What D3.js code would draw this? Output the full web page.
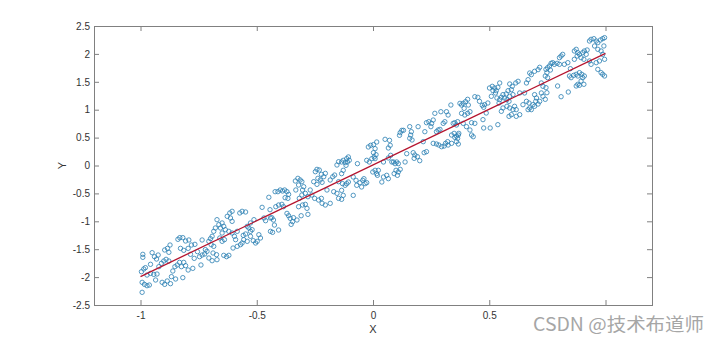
<!DOCTYPE html>
<html>
<head>
<meta charset="utf-8">
<script src="https://cdn.jsdelivr.net/npm/d3@7/dist/d3.min.js"></script>
<style>
  html, body { margin: 0; padding: 0; background: #fff; }
  svg { display: block; }
</style>
</head>
<body>
<svg id="chart" width="720" height="343"></svg>
<script>
// ---------------- data ----------------
const xTicks = [-1, -0.5, 0, 0.5, 1];
// the label of the last x tick is hidden under the watermark in the reference
const xTickLabels = ["-1", "-0.5", "0", "0.5", ""];
const yTicks = [-2.5, -2, -1.5, -1, -0.5, 0, 0.5, 1, 1.5, 2, 2.5];
const xDomain = [-1.2, 1.2];
const yDomain = [-2.5, 2.5];
const xLabel = "X";
const yLabel = "Y";
const watermark = "CSDN @技术布道师";

// fitted regression line end points
const fitX = [-1, 1];
const fitY = [-1.99, 2.01];

// scatter samples [x, y]
const pointsA = [
[-0.990,-1.592],[-0.990,-1.646],[-0.996,-1.903],[-0.986,-1.855],[-0.979,-1.831],[-0.993,-2.094],[-0.983,-2.130],[-0.972,-2.154],
[-0.962,-2.142],[-0.993,-2.273],[-0.957,-1.771],[-0.950,-1.562],[-0.940,-1.634],[-0.931,-1.676],[-0.924,-1.604],[-0.957,-1.933],
[-0.943,-1.951],[-0.929,-1.945],[-0.921,-1.813],[-0.910,-1.753],[-0.900,-1.712],[-0.890,-1.682],[-0.878,-1.712],[-0.896,-1.514],
[-0.884,-1.485],[-0.873,-1.425],[-0.878,-1.556],[-0.907,-2.094],[-0.896,-2.130],[-0.885,-2.070],[-0.871,-2.118],[-0.861,-1.891],
[-0.867,-1.992],[-0.852,-1.813],[-0.842,-1.783],[-0.832,-1.736],[-0.824,-1.813],[-0.814,-1.736],[-0.806,-1.795],[-0.839,-1.323],
[-0.831,-1.293],[-0.818,-1.293],[-0.806,-1.353],[-0.792,-1.335],[-0.828,-1.485],[-0.814,-1.520],[-0.795,-1.485],[-0.781,-1.425],
[-0.766,-1.413],[-0.785,-1.592],[-0.769,-1.664],[-0.755,-1.544],[-0.746,-1.634],[-0.740,-1.783],[-0.735,-1.604],[-0.735,-1.335],
[-0.818,-2.010],[-0.849,-2.034],[-0.795,-1.873],[-0.775,-1.843],[-0.935,-2.052],[-0.972,-1.963]
];
const pointsB = [
[-0.721,-1.508],[-0.714,-1.538],[-0.724,-1.586],[-0.706,-1.359],[-0.699,-1.311],[-0.692,-1.269],[-0.685,-1.180],[-0.678,-1.120],
[-0.671,-0.971],[-0.663,-1.060],[-0.696,-1.419],[-0.685,-1.449],[-0.688,-1.568],[-0.673,-1.598],[-0.706,-1.658],[-0.692,-1.706],
[-0.671,-1.688],[-0.656,-1.120],[-0.649,-1.210],[-0.642,-1.090],[-0.635,-1.150],[-0.649,-1.030],[-0.659,-1.299],[-0.649,-1.359],
[-0.639,-1.329],[-0.642,-1.610],[-0.630,-1.634],[-0.620,-1.610],[-0.627,-0.911],[-0.616,-0.851],[-0.606,-0.821],[-0.606,-1.001],
[-0.613,-0.941],[-0.620,-1.180],[-0.606,-1.210],[-0.596,-1.269],[-0.591,-1.329],[-0.584,-1.180],[-0.602,-1.479],[-0.584,-1.449],
[-0.570,-1.419],[-0.573,-0.851],[-0.563,-0.821],[-0.548,-0.833],[-0.558,-1.252],[-0.548,-1.228],[-0.556,-1.329],[-0.563,-1.389],
[-0.541,-1.359],[-0.534,-1.120],[-0.527,-1.180],[-0.520,-1.150],[-0.512,-0.971],[-0.527,-1.269],[-0.515,-1.347],[-0.505,-1.389],
[-0.498,-1.359],[-0.491,-1.240],[-0.484,-1.299],[-0.477,-0.750],[-0.469,-0.941],[-0.462,-0.989],[-0.448,-0.570],[-0.443,-0.792],
[-0.441,-0.941],[-0.441,-1.180],[-0.527,-1.030],[-0.541,-1.090]
];
const pointsC = [
[-0.435,-0.935],[-0.428,-0.977],[-0.432,-1.198],[-0.424,-1.067],[-0.406,-1.156],[-0.421,-0.469],[-0.409,-0.469],[-0.399,-0.439],
[-0.389,-0.457],[-0.380,-0.439],[-0.370,-0.469],[-0.378,-0.577],[-0.366,-0.589],[-0.363,-0.517],[-0.418,-0.738],[-0.406,-0.708],
[-0.392,-0.696],[-0.385,-0.738],[-0.370,-0.858],[-0.363,-0.900],[-0.356,-0.947],[-0.346,-1.007],[-0.352,-1.055],[-0.342,-0.935],
[-0.327,-0.977],[-0.334,-0.278],[-0.323,-0.230],[-0.313,-0.260],[-0.306,-0.290],[-0.298,-0.380],[-0.303,-0.439],[-0.320,-0.350],
[-0.332,-0.439],[-0.317,-0.589],[-0.306,-0.529],[-0.291,-0.499],[-0.280,-0.559],[-0.320,-0.738],[-0.303,-0.708],[-0.291,-0.696],
[-0.284,-0.768],[-0.309,-0.900],[-0.280,-0.876],[-0.248,-0.111],[-0.241,-0.069],[-0.231,-0.081],[-0.222,-0.159],[-0.237,-0.230],
[-0.227,-0.260],[-0.212,-0.201],[-0.205,-0.141],[-0.219,-0.302],[-0.255,-0.290],[-0.241,-0.338],[-0.251,-0.589],[-0.234,-0.619],
[-0.219,-0.678],[-0.205,-0.708],[-0.222,-0.589],[-0.184,-0.678],[-0.198,-0.439],[-0.184,-0.260],[-0.173,-0.201],[-0.165,-0.171],
[-0.169,-0.469],[-0.155,0.009],[-0.148,0.068],[-0.148,-0.290],[-0.155,-0.499],[-0.148,-0.589],[-0.270,-0.439],[-0.263,-0.529]
];
const pointsD = [
[-0.135,0.063],[-0.128,0.093],[-0.120,0.051],[-0.113,0.123],[-0.106,0.153],[-0.110,0.063],[-0.102,0.093],[-0.116,0.003],
[-0.135,-0.146],[-0.128,-0.086],[-0.131,-0.325],[-0.120,-0.355],[-0.135,-0.445],[-0.128,-0.535],[-0.135,-0.606],[-0.113,-0.325],
[-0.106,-0.296],[-0.085,-0.206],[-0.067,0.033],[-0.073,-0.266],[-0.070,-0.355],[-0.056,-0.308],[-0.044,-0.266],[-0.039,-0.236],
[-0.034,-0.325],[-0.049,-0.385],[-0.027,-0.308],[-0.085,-0.535],[-0.020,0.332],[-0.010,0.362],[0.002,0.374],[0.009,0.302],
[0.016,0.421],[0.002,0.230],[0.013,0.194],[0.005,0.153],[-0.005,0.123],[0.009,0.123],[-0.027,0.093],[-0.016,0.063],
[-0.001,-0.116],[0.009,-0.086],[0.016,-0.146],[0.023,-0.086],[0.019,-0.176],[0.038,-0.296],[0.045,-0.206],[0.059,-0.176],
[0.066,-0.236],[0.045,0.063],[0.052,0.469],[0.071,0.451],[0.074,0.362],[0.066,0.314],[0.076,0.182],[0.066,0.135],
[0.081,0.063],[0.088,0.063],[0.095,0.033],[0.102,0.063],[0.109,0.033],[0.099,-0.086],[0.109,-0.116],[0.117,-0.069],
[0.105,-0.176],[0.091,-0.146],[0.117,0.589],[0.124,0.630],[0.114,0.541],[0.131,0.630],[0.138,0.063],[0.145,0.212]
];
const pointsE = [
[0.158,0.696],[0.165,0.606],[0.158,0.487],[0.168,0.457],[0.162,0.546],[0.173,0.230],[0.180,0.188],[0.177,0.128],
[0.191,0.158],[0.201,0.086],[0.194,0.696],[0.216,0.427],[0.223,0.606],[0.230,0.767],[0.240,0.785],[0.252,0.755],
[0.259,0.815],[0.249,0.696],[0.220,0.230],[0.230,0.248],[0.266,0.935],[0.280,0.636],[0.288,0.648],[0.273,0.606],
[0.292,0.964],[0.302,0.755],[0.309,0.785],[0.259,0.397],[0.273,0.385],[0.283,0.367],[0.295,0.337],[0.306,0.349],
[0.312,0.397],[0.323,0.367],[0.321,0.427],[0.316,0.964],[0.323,0.905],[0.335,1.084],[0.345,0.755],[0.352,0.767],
[0.364,0.785],[0.359,0.726],[0.338,0.546],[0.349,0.576],[0.359,0.528],[0.367,0.546],[0.352,0.504],[0.364,0.487],
[0.369,0.576],[0.359,0.427],[0.367,0.385],[0.338,0.397],[0.374,1.114],[0.381,1.084],[0.388,1.114],[0.398,1.144],
[0.407,1.186],[0.392,1.024],[0.410,1.084],[0.381,0.935],[0.395,0.905],[0.407,0.935],[0.417,0.964],[0.388,0.755],
[0.402,0.696],[0.417,0.636],[0.424,0.546],[0.431,0.516],[0.424,0.767],[0.438,1.233],[0.438,0.755]
];
const pointsF = [
[0.451,1.222],[0.458,1.150],[0.470,1.078],[0.476,1.043],[0.480,1.090],[0.494,1.120],[0.473,0.822],[0.476,0.672],
[0.487,0.941],[0.504,0.672],[0.537,0.732],[0.501,1.389],[0.513,1.419],[0.523,1.389],[0.530,1.341],[0.537,1.401],
[0.545,1.479],[0.527,1.300],[0.516,1.341],[0.509,1.240],[0.533,1.210],[0.545,1.180],[0.542,1.120],[0.552,1.222],
[0.559,1.270],[0.566,1.210],[0.573,1.282],[0.581,1.341],[0.576,1.180],[0.588,1.240],[0.585,1.150],[0.595,1.359],
[0.602,1.270],[0.588,1.461],[0.599,1.419],[0.552,0.971],[0.559,1.031],[0.576,1.061],[0.588,1.031],[0.602,1.001],
[0.595,0.911],[0.609,1.061],[0.616,1.001],[0.616,0.881],[0.631,0.911],[0.585,0.881],[0.614,1.479],[0.624,1.509],
[0.631,1.300],[0.652,1.300],[0.667,1.538],[0.660,1.479],[0.674,1.658],[0.681,1.628],[0.695,1.688],[0.710,1.718],
[0.717,1.760],[0.660,1.150],[0.671,1.120],[0.674,1.031],[0.688,1.090],[0.681,1.001],[0.695,1.061],[0.700,1.150],
[0.710,1.102],[0.703,1.210],[0.717,1.150],[0.695,1.270],[0.724,1.300],[0.731,1.419],[0.724,1.479],[0.731,1.240],
[0.667,1.001],[0.645,1.090]
];
const pointsG = [
[0.744,1.723],[0.751,1.753],[0.748,1.664],[0.759,1.783],[0.766,1.831],[0.773,1.843],[0.763,1.711],[0.741,1.604],
[0.751,1.574],[0.744,1.395],[0.748,1.305],[0.741,1.186],[0.780,1.813],[0.792,1.831],[0.802,1.932],[0.809,1.962],
[0.816,1.992],[0.802,1.813],[0.794,1.425],[0.809,1.233],[0.840,1.317],[0.823,1.813],[0.838,1.843],[0.849,1.735],
[0.845,1.604],[0.852,1.574],[0.863,1.616],[0.874,1.634],[0.881,1.604],[0.888,1.664],[0.898,1.634],[0.909,1.604],
[0.902,1.574],[0.895,1.514],[0.881,1.455],[0.874,1.425],[0.888,1.437],[0.907,1.455],[0.866,2.052],[0.874,2.082],
[0.881,2.022],[0.878,1.962],[0.888,1.992],[0.895,1.932],[0.902,2.022],[0.909,2.052],[0.917,1.992],[0.921,2.070],
[0.907,1.903],[0.931,2.231],[0.938,2.261],[0.950,2.273],[0.960,2.231],[0.967,2.201],[0.978,2.249],[0.988,2.273],
[0.996,2.291],[0.953,2.142],[0.967,2.082],[0.981,2.052],[0.993,2.142],[0.988,1.992],[0.996,1.903],[0.931,1.873],
[0.938,1.813],[0.960,1.843],[0.974,1.873],[0.981,1.664],[0.988,1.634],[0.996,1.604],[0.967,1.723],[0.866,1.903]
];
const points = [].concat(pointsA, pointsB, pointsC, pointsD, pointsE, pointsF, pointsG);

// ---------------- drawing ----------------
const svg = d3.select("#chart");
const W = 720, H = 343;
const plot = { left: 94, right: 652, top: 26, bottom: 305 };

const x = d3.scaleLinear().domain(xDomain).range([plot.left, plot.right]);
const y = d3.scaleLinear().domain(yDomain).range([plot.bottom, plot.top]);

svg.append("rect").attr("width", W).attr("height", H).attr("fill", "#fff");

const fontFam = "'Liberation Sans', Arial, Helvetica, sans-serif";
const axisColor = "#808080";
const textColor = "#333";
const fmt = d => String(d);
const xFmt = d => xTickLabels[xTicks.indexOf(d)];

// scatter
svg.append("g")
  .selectAll("circle")
  .data(points)
  .join("circle")
  .attr("cx", d => x(d[0]))
  .attr("cy", d => y(d[1]))
  .attr("r", 2.2)
  .attr("fill", "none")
  .attr("stroke", "#2a7fb2")
  .attr("stroke-width", 0.8);

// fit line
svg.append("path")
  .datum(fitX.map((v, i) => [v, fitY[i]]))
  .attr("d", d3.line().x(d => x(d[0])).y(d => y(d[1])))
  .attr("fill", "none")
  .attr("stroke", "#b5152f")
  .attr("stroke-width", 1.3);

// axes
function styleAxis(g) {
  g.select(".domain").remove();
  g.selectAll(".tick line").attr("stroke", axisColor).attr("stroke-width", 1);
  g.selectAll(".tick text").attr("fill", textColor).attr("font-family", fontFam).attr("font-size", 10);
}

svg.append("g")
  .attr("transform", `translate(0,${plot.bottom})`)
  .call(d3.axisBottom(x).tickValues(xTicks).tickFormat(xFmt).tickSizeInner(-5).tickSizeOuter(0).tickPadding(7))
  .call(styleAxis);

svg.append("g")
  .attr("transform", `translate(0,${plot.top})`)
  .call(d3.axisTop(x).tickValues(xTicks).tickFormat("").tickSizeInner(-5).tickSizeOuter(0))
  .call(styleAxis);

svg.append("g")
  .attr("transform", `translate(${plot.left},0)`)
  .call(d3.axisLeft(y).tickValues(yTicks).tickFormat(fmt).tickSizeInner(-5).tickSizeOuter(0).tickPadding(4))
  .call(styleAxis);

svg.append("g")
  .attr("transform", `translate(${plot.right},0)`)
  .call(d3.axisRight(y).tickValues(yTicks).tickFormat("").tickSizeInner(-5).tickSizeOuter(0))
  .call(styleAxis);

// box
svg.append("rect")
  .attr("x", plot.left + 0.5).attr("y", plot.top + 0.5)
  .attr("width", plot.right - plot.left).attr("height", plot.bottom - plot.top)
  .attr("fill", "none").attr("stroke", axisColor).attr("stroke-width", 1);

// axis labels
svg.append("text")
  .attr("x", (plot.left + plot.right) / 2).attr("y", 333)
  .attr("text-anchor", "middle")
  .attr("font-family", fontFam).attr("font-size", 11).attr("fill", textColor)
  .text(xLabel);

svg.append("text")
  .attr("transform", `translate(66,${(plot.top + plot.bottom) / 2}) rotate(-90)`)
  .attr("text-anchor", "middle")
  .attr("font-family", fontFam).attr("font-size", 11).attr("fill", textColor)
  .text(yLabel);

// watermark with faint white backing
svg.append("rect")
  .attr("x", 540).attr("y", 306).attr("width", 170).attr("height", 10)
  .attr("fill", "#fff").attr("opacity", 0.7);

svg.append("text")
  .attr("x", 533).attr("y", 331)
  .attr("font-family", "'Noto Sans CJK SC', 'Noto Sans', sans-serif")
  .attr("font-size", 18)
  .attr("fill", "#a6a6a6")
  .attr("textLength", 171)
  .attr("lengthAdjust", "spacingAndGlyphs")
  .text(watermark);
</script>
</body>
</html>
